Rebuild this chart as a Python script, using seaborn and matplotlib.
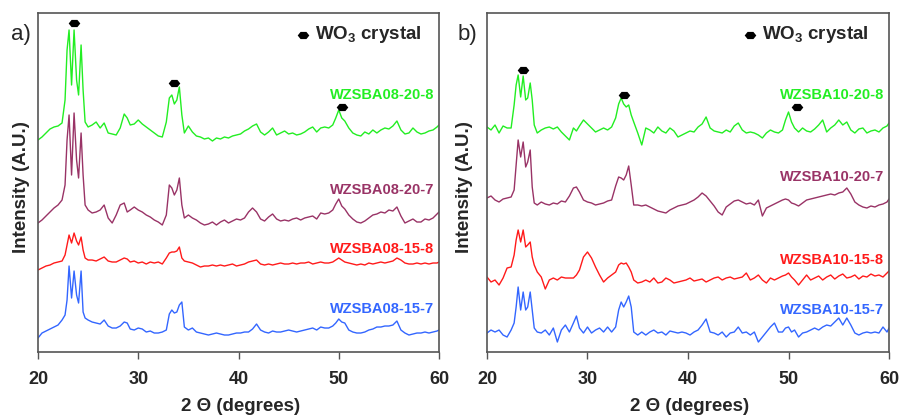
import matplotlib
matplotlib.use('Agg')
import matplotlib.pyplot as plt
from matplotlib.path import Path
import seaborn as sns
import pandas as pd

# 2-theta grid shared by all patterns (denser around the WO3 reflections)
two_theta = [
    20.0, 20.4, 20.8, 21.2, 21.6, 22.0, 22.4, 22.7, 22.9, 23.1,
    23.35, 23.6, 23.85, 24.05, 24.3, 24.5, 24.7, 25.0, 25.4, 25.8,
    26.2, 26.6, 27.0, 27.4, 27.8, 28.2, 28.6, 28.9, 29.2, 29.6,
    30.0, 30.4, 30.8, 31.2, 31.6, 32.0, 32.4, 32.8, 33.1, 33.35,
    33.6, 33.85, 34.1, 34.35, 34.6, 35.0, 35.4, 35.8, 36.2, 36.6,
    37.0, 37.4, 37.8, 38.2, 38.6, 39.0, 39.4, 39.8, 40.2, 40.6,
    41.0, 41.4, 41.8, 42.2, 42.6, 43.0, 43.4, 43.8, 44.2, 44.6,
    45.0, 45.4, 45.8, 46.2, 46.6, 47.0, 47.4, 47.8, 48.2, 48.6,
    49.0, 49.4, 49.7, 50.0, 50.3, 50.6, 51.0, 51.4, 51.8, 52.2,
    52.6, 53.0, 53.4, 53.8, 54.2, 54.6, 55.0, 55.4, 55.8, 56.2,
    56.6, 57.0, 57.4, 57.8, 58.2, 58.6, 59.0, 59.4, 59.8, 60.0,
]

# panel a (stacked, arbitrary units)
wzsba08_20_8 = [
    213, 216, 220, 224, 226, 227, 230, 253, 303, 323,
    268, 323, 273, 258, 308, 263, 231, 226, 228, 231,
    225, 230, 220, 219, 218, 225, 239, 235, 228, 229,
    233, 229, 226, 223, 220, 217, 216, 231, 255, 258,
    249, 253, 266, 238, 220, 227, 221, 217, 216, 214,
    215, 212, 215, 214, 216, 215, 217, 218, 219, 222,
    224, 227, 229, 221, 218, 221, 225, 218, 220, 222,
    219, 220, 218, 219, 221, 224, 226, 221, 225, 226,
    225, 228, 235, 243, 235, 232, 225, 220, 218, 217,
    221, 219, 223, 220, 223, 225, 224, 227, 232, 223,
    219, 220, 225, 221, 219, 220, 222, 223, 226, 228,
]
wzsba08_20_7 = [
    130, 133, 137, 141, 145, 148, 153, 168, 213, 238,
    178, 240, 193, 175, 220, 178, 148, 143, 140, 141,
    143, 148, 135, 130, 138, 148, 150, 141, 143, 146,
    143, 141, 138, 136, 133, 131, 128, 138, 168, 165,
    158, 163, 175, 148, 135, 138, 135, 133, 130, 128,
    129, 131, 128, 131, 133, 130, 132, 134, 133, 135,
    141, 145, 141, 134, 132, 136, 139, 134, 132, 133,
    132, 134, 135, 133, 135, 136, 137, 134, 140, 139,
    140, 143, 149, 154, 147, 144, 138, 134, 131, 130,
    132, 135, 138, 139, 141, 140, 143, 142, 146, 137,
    130, 132, 134, 131, 131, 134, 133, 135, 139, 141,
]
wzsba08_15_8 = [
    83, 85, 87, 88, 90, 91, 92, 98, 108, 118,
    110, 120, 112, 108, 116, 103, 95, 93, 93, 92,
    94, 96, 92, 91, 91, 93, 95, 94, 91, 92,
    90, 91, 89, 91, 90, 91, 89, 95, 100, 101,
    101, 102, 106, 95, 92, 91, 90, 88, 86, 87,
    87, 88, 87, 88, 87, 88, 89, 87, 88, 89,
    91, 92, 93, 89, 88, 89, 88, 89, 90, 89,
    89, 90, 89, 90, 90, 91, 89, 90, 91, 90,
    90, 91, 93, 95, 93, 91, 90, 89, 88, 89,
    88, 90, 89, 90, 91, 90, 91, 92, 95, 93,
    90, 89, 89, 90, 89, 90, 89, 90, 90, 91,
]
wzsba08_15_7 = [
    15, 20, 22, 24, 26, 28, 33, 38, 53, 87,
    55, 82, 58, 50, 82, 41, 35, 33, 31, 30,
    29, 33, 27, 25, 25, 27, 31, 30, 24, 23,
    25, 24, 21, 22, 20, 20, 21, 23, 39, 43,
    40, 41, 48, 51, 26, 23, 25, 21, 20, 19,
    18, 19, 20, 19, 18, 18, 19, 20, 20, 21,
    21, 24, 29, 23, 21, 20, 22, 21, 21, 22,
    23, 22, 21, 22, 23, 24, 25, 23, 26, 25,
    25, 27, 30, 34, 31, 30, 23, 21, 20, 20,
    21, 23, 24, 26, 26, 27, 27, 28, 32, 23,
    20, 18, 19, 20, 20, 21, 20, 21, 22, 23,
]

# panel b
wzsba10_20_8 = [
    226, 223, 228, 220, 227, 225, 225, 248, 268, 278,
    256, 277, 253, 255, 270, 253, 228, 220, 223, 225,
    226, 224, 226, 221, 217, 213, 225, 222, 227, 233,
    229, 225, 221, 223, 225, 223, 226, 235, 249, 255,
    249, 246, 248, 238, 231, 220, 208, 225, 223, 220,
    226, 222, 220, 225, 222, 216, 218, 220, 222, 221,
    226, 229, 236, 225, 222, 221, 220, 223, 221, 227,
    230, 223, 220, 221, 220, 218, 215, 220, 223, 221,
    220, 223, 233, 241, 231, 225, 221, 225, 222, 221,
    224, 228, 233, 221, 225, 228, 233, 228, 231, 223,
    220, 224, 225, 220, 222, 223, 221, 225, 227, 230,
]
wzsba10_20_7 = [
    155, 157, 153, 151, 154, 155, 156, 163, 188, 213,
    196, 211, 186, 191, 203, 166, 150, 148, 151, 149,
    148, 150, 149, 152, 151, 157, 165, 166, 161, 153,
    151, 150, 148, 149, 150, 152, 153, 167, 176, 175,
    173, 178, 187, 168, 148, 148, 147, 148, 146, 144,
    142, 141, 140, 143, 145, 147, 148, 149, 151, 153,
    156, 160, 157, 152, 147, 141, 138, 146, 149, 152,
    153, 151, 149, 150, 148, 153, 137, 145, 147, 149,
    151, 153, 154, 153, 150, 149, 147, 150, 153, 154,
    155, 156, 157, 158, 159, 158, 160, 161, 165, 159,
    151, 148, 146, 145, 147, 146, 148, 149, 151, 154,
]
wzsba10_15_8 = [
    76, 71, 73, 68, 75, 85, 86, 98, 113, 123,
    111, 123, 106, 108, 111, 96, 88, 81, 76, 64,
    73, 75, 73, 76, 75, 75, 75, 78, 83, 96,
    101, 95, 86, 78, 71, 75, 78, 81, 88, 90,
    89, 90, 86, 81, 73, 70, 71, 73, 71, 75,
    70, 71, 75, 73, 70, 71, 72, 73, 75, 72,
    73, 74, 71, 73, 75, 76, 73, 75, 76, 74,
    75, 76, 80, 73, 75, 78, 73, 70, 75, 73,
    75, 77, 78, 80, 76, 73, 68, 73, 78, 73,
    75, 77, 73, 76, 78, 74, 77, 79, 75, 76,
    78, 74, 77, 76, 79, 77, 78, 76, 80, 82,
]
wzsba10_15_7 = [
    20, 23, 21, 23, 18, 16, 23, 30, 46, 66,
    43, 61, 43, 46, 61, 43, 25, 21, 20, 23,
    18, 25, 11, 23, 28, 21, 30, 37, 25, 20,
    26, 20, 23, 25, 21, 26, 21, 26, 43, 51,
    46, 51, 57, 46, 21, 18, 21, 18, 21, 23,
    20, 21, 18, 22, 21, 20, 21, 20, 18, 21,
    23, 28, 34, 21, 20, 18, 21, 16, 20, 21,
    26, 20, 21, 18, 21, 11, 16, 21, 26, 30,
    21, 21, 25, 26, 21, 23, 16, 20, 21, 23,
    25, 23, 26, 28, 27, 31, 35, 28, 35, 28,
    20, 18, 20, 21, 20, 21, 20, 26, 21, 25,
]

names_a = ['WZSBA08-20-8', 'WZSBA08-20-7', 'WZSBA08-15-8', 'WZSBA08-15-7']
names_b = ['WZSBA10-20-8', 'WZSBA10-20-7', 'WZSBA10-15-8', 'WZSBA10-15-7']
colors = ['#22ee22', '#993366', '#ff1a1a', '#3366ff']

# WO3 reflection markers (2-theta, height)
wo3_a_x = [23.6, 33.6, 50.35]
wo3_a_y = [330, 270, 246]
wo3_b_x = [23.55, 33.6, 50.8]
wo3_b_y = [283, 258, 246]

sns.set_style('white')
plt.rcParams['font.family'] = ['Liberation Sans', 'DejaVu Sans']
plt.rcParams['mathtext.fontset'] = 'custom'
plt.rcParams['mathtext.bf'] = 'Liberation Sans:bold'
plt.rcParams['mathtext.rm'] = 'Liberation Sans:bold'

hexa = Path([(-1, 0), (-0.5, 0.62), (0.5, 0.62), (1, 0), (0.5, -0.62), (-0.5, -0.62), (-1, 0)],
            [1, 2, 2, 2, 2, 2, 79])

fig = plt.figure(figsize=(9, 4.16), dpi=100)
ax_a = fig.add_axes([0.0422, 0.1538, 0.4456, 0.815])
ax_b = fig.add_axes([0.5411, 0.1538, 0.4467, 0.815])

panels = [
    (ax_a, names_a, [wzsba08_20_8, wzsba08_20_7, wzsba08_15_8, wzsba08_15_7],
     wo3_a_x, wo3_a_y, [258, 163, 104, 44], 46.4, -0.040, 'a)', 0.023),
    (ax_b, names_b, [wzsba10_20_8, wzsba10_20_7, wzsba10_15_8, wzsba10_15_7],
     wo3_b_x, wo3_b_y, [258, 176, 93, 43], 46.2, -0.055, 'b)', 0.519),
]

for ax, names, series, px, py, label_y, leg_x, ylab_x, tag, tag_x in panels:
    df = pd.concat([pd.DataFrame({'two_theta': two_theta, 'intensity': s, 'sample': n})
                    for n, s in zip(names, series)])
    sns.lineplot(data=df, x='two_theta', y='intensity', hue='sample',
                 palette=dict(zip(names, colors)), hue_order=names,
                 sort=False, estimator=None, lw=1.0, legend=False, ax=ax)
    sns.scatterplot(x=px, y=py, marker=hexa, s=70, color='black',
                    linewidth=0, ax=ax, zorder=5)
    for n, c, y in zip(names, colors, label_y):
        ax.text(59.5, y, n, color=c, fontsize=10.5, fontweight='bold',
                ha='right', va='center')
    # legend entry
    ax.scatter([leg_x], [318], marker=hexa, s=70, color='black', linewidth=0)
    ax.text(leg_x + 1.2, 318, r'WO$_\mathbf{3}$ crystal', fontsize=13.5,
            fontweight='bold', ha='left', va='center')

    ax.set_xlim(20, 60)
    ax.set_ylim(1, 340)
    ax.set_xticks([20, 30, 40, 50, 60])
    ax.set_yticks([])
    ax.set_xlabel('')
    ax.set_ylabel('')
    for lab in ax.get_xticklabels():
        lab.set_fontweight('bold')
    ax.tick_params(axis='x', direction='out', length=5, width=1.0,
                   color='#555555', labelsize=13, pad=9, bottom=True)
    for sp in ax.spines.values():
        sp.set_color('#555555')
        sp.set_linewidth(1.2)
    ax.text(0.504, -0.162, '2 \u0398 (degrees)', transform=ax.transAxes,
            fontsize=13.5, fontweight='bold', ha='center', va='center')
    ax.text(ylab_x, 0.487, 'Intensity (A.U.)', transform=ax.transAxes,
            rotation=90, fontsize=13.5, fontweight='bold', ha='center', va='center')
    fig.text(tag_x, 0.918, tag, fontsize=16, ha='center', va='center')

fig.savefig('out.png', dpi=100)
